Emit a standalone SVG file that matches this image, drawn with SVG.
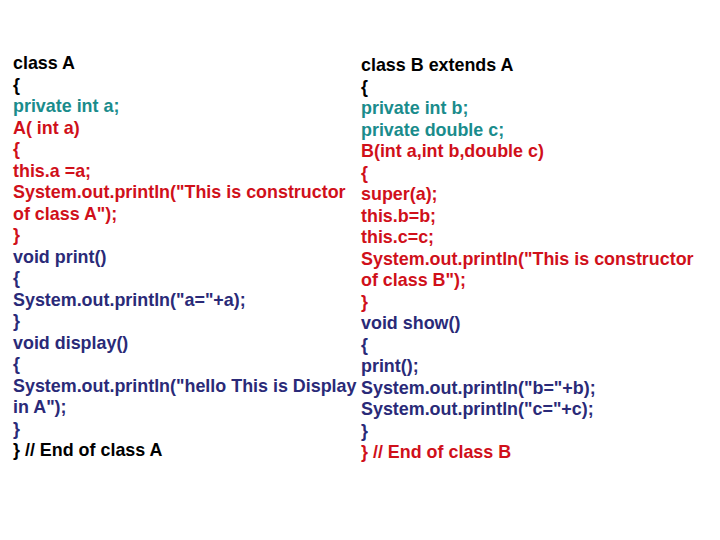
<svg xmlns="http://www.w3.org/2000/svg" width="720" height="540" viewBox="0 0 720 540">
<style>
text{font-family:"Liberation Sans",Arial,sans-serif;font-weight:bold;font-size:17.9px}
.k{fill:#000}.t{fill:#1a8c8c}.r{fill:#d0101a}.n{fill:#2a2a78}
</style>
<rect width="720" height="540" fill="#fff"/>
<g id="classA">
<text x="13" y="69" class="k">class A</text>
<text x="13" y="90.5" class="k">{</text>
<text x="13" y="112" class="t">private int a;</text>
<text x="13" y="133.5" class="r">A( int a)</text>
<text x="13" y="155" class="r">{</text>
<text x="13" y="176.5" class="r">this.a =a;</text>
<text x="13" y="198" class="r">System.out.println("This is constructor</text>
<text x="13" y="219.5" class="r">of class A");</text>
<text x="13" y="241" class="r">}</text>
<text x="13" y="262.5" class="n">void print()</text>
<text x="13" y="284" class="n">{</text>
<text x="13" y="305.5" class="n">System.out.println("a="+a);</text>
<text x="13" y="327" class="n">}</text>
<text x="13" y="348.5" class="n">void display()</text>
<text x="13" y="370" class="n">{</text>
<text x="13" y="391.5" class="n">System.out.println("hello This is Display</text>
<text x="13" y="413" class="n">in A");</text>
<text x="13" y="434.5" class="n">}</text>
<text x="13" y="456" class="k">} // End of class A</text>
</g>
<g id="classB">
<text x="361" y="71" class="k">class B extends A</text>
<text x="361" y="92.5" class="k">{</text>
<text x="361" y="114" class="t">private int b;</text>
<text x="361" y="135.5" class="t">private double c;</text>
<text x="361" y="157" class="r">B(int a,int b,double c)</text>
<text x="361" y="178.5" class="r">{</text>
<text x="361" y="200" class="r">super(a);</text>
<text x="361" y="221.5" class="r">this.b=b;</text>
<text x="361" y="243" class="r">this.c=c;</text>
<text x="361" y="264.5" class="r">System.out.println("This is constructor</text>
<text x="361" y="286" class="r">of class B");</text>
<text x="361" y="307.5" class="r">}</text>
<text x="361" y="329" class="n">void show()</text>
<text x="361" y="350.5" class="n">{</text>
<text x="361" y="372" class="n">print();</text>
<text x="361" y="393.5" class="n">System.out.println("b="+b);</text>
<text x="361" y="415" class="n">System.out.println("c="+c);</text>
<text x="361" y="436.5" class="n">}</text>
<text x="361" y="458" class="r">} // End of class B</text>
</g>
<g id="connectors"/>
</svg>
